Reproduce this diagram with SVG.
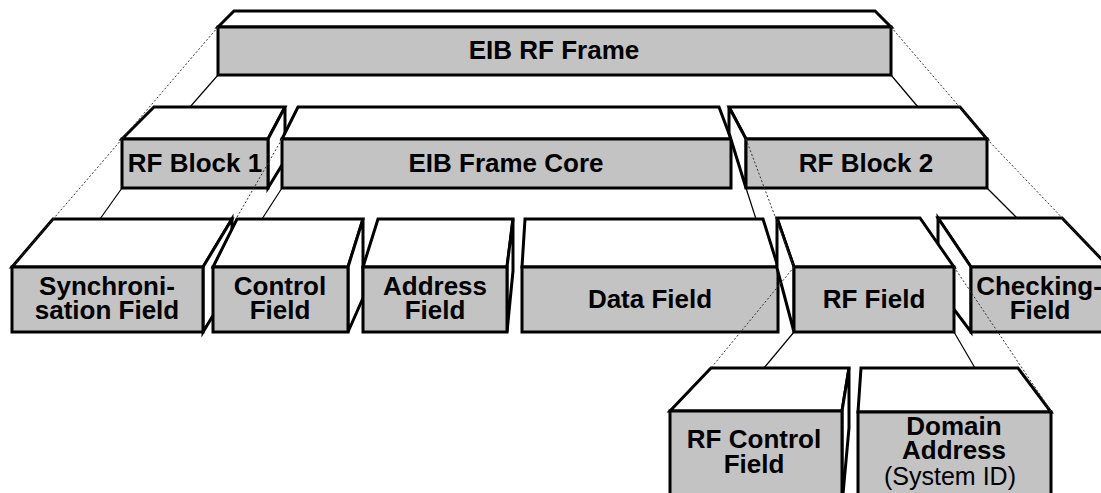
<svg xmlns="http://www.w3.org/2000/svg" width="1101" height="493" viewBox="0 0 1101 493">
  <style>
    .front { fill: #c3c3c3; stroke: #000; stroke-width: 3; stroke-linejoin: miter; }
    .face { fill: #fff; stroke: #000; stroke-width: 3; stroke-linejoin: miter; }
    .link { fill: none; stroke: #000; stroke-width: 1.2; }
    .guide { fill: none; stroke: #333; stroke-width: 1; stroke-dasharray: 2 2; }
    .lbl { font-family: "Liberation Sans", Arial, sans-serif; font-weight: bold; font-size: 26px; text-anchor: middle; fill: #000; }
    .sub { font-family: "Liberation Sans", Arial, sans-serif; font-weight: normal; font-size: 25px; text-anchor: middle; fill: #000; }
  </style>
  <rect width="1101" height="493" fill="#fff"/>

  <!-- solid links from bottom corners to the next level -->
  <g id="connectors">
    <line class="link" x1="218" y1="75" x2="190" y2="107"/>
    <line class="link" x1="891" y1="75" x2="918" y2="107"/>
    <line class="link" x1="122" y1="188" x2="100" y2="219"/>
    <line class="link" x1="282" y1="188" x2="262" y2="219"/>
    <line class="link" x1="746" y1="188" x2="756" y2="219"/>
    <line class="link" x1="987" y1="188" x2="1017" y2="218"/>
    <line class="link" x1="794" y1="332" x2="764" y2="368"/>
    <line class="link" x1="954" y1="332" x2="975" y2="368"/>
  </g>

  <g id="eib-rf-frame">
    <polygon class="face" points="218,27 234,11 875,11 891,27"/>
    <rect class="front" x="218" y="27" width="673" height="48"/>
    <text class="lbl" x="554" y="59">EIB RF Frame</text>
  </g>

  <g id="rf-block-1">
    <polygon class="face" points="122,139 154,107 285,107 268,139"/>
    <polygon class="face" points="268,139 285,107 285,160 268,188"/>
    <rect class="front" x="122" y="139" width="146" height="49"/>
    <text class="lbl" x="195" y="172">RF Block 1</text>
  </g>

  <g id="eib-frame-core">
    <polygon class="face" points="282,139 298,107 719,107 731,139"/>
    <rect class="front" x="282" y="139" width="449" height="49"/>
    <text class="lbl" x="506" y="172">EIB Frame Core</text>
  </g>

  <g id="rf-block-2">
    <polygon class="face" points="746,139 729,107 960,107 987,139"/>
    <polygon class="face" points="746,139 729,107 729,133 746,188"/>
    <rect class="front" x="746" y="139" width="241" height="49"/>
    <text class="lbl" x="866" y="172">RF Block 2</text>
  </g>

  <g id="sync-field">
    <polygon class="face" points="12,267 53,219 232,219 203,267"/>
    <polygon class="face" points="203,267 232,219 232,284 203,332"/>
    <rect class="front" x="12" y="267" width="191" height="65"/>
    <text class="lbl" x="107" y="295">Synchroni-</text>
    <text class="lbl" x="107" y="319">sation Field</text>
  </g>

  <g id="control-field">
    <polygon class="face" points="213,267 237,219 363,219 348,267"/>
    <polygon class="face" points="348,267 363,219 363,298 348,332"/>
    <rect class="front" x="213" y="267" width="135" height="65"/>
    <text class="lbl" x="280" y="295">Control</text>
    <text class="lbl" x="280" y="319">Field</text>
  </g>

  <g id="address-field">
    <polygon class="face" points="363,267 378,219 513,219 507,267"/>
    <polygon class="face" points="507,267 513,219 513,271 507,332"/>
    <rect class="front" x="363" y="267" width="144" height="65"/>
    <text class="lbl" x="435" y="295">Address</text>
    <text class="lbl" x="435" y="319">Field</text>
  </g>

  <g id="data-field">
    <polygon class="face" points="522,267 525,219 763,219 778,267"/>
    <rect class="front" x="522" y="267" width="256" height="65"/>
    <text class="lbl" x="650" y="308">Data Field</text>
  </g>

  <g id="checking-field">
    <polygon class="face" points="971,267 938,218 1062,218 1109,267"/>
    <polygon class="face" points="971,267 938,218 938,288 971,332"/>
    <rect class="front" x="971" y="267" width="138" height="65"/>
    <text class="lbl" x="1039" y="295">Checking-</text>
    <text class="lbl" x="1040" y="319">Field</text>
  </g>

  <g id="rf-field">
    <polygon class="face" points="794,267 777,218 920,218 954,267"/>
    <polygon class="face" points="794,267 777,218 777,268 794,332"/>
    <rect class="front" x="794" y="267" width="160" height="65"/>
    <text class="lbl" x="874" y="308">RF Field</text>
  </g>

  <g id="rf-control-field">
    <polygon class="face" points="670,411 711,368 849,368 842,411"/>
    <polygon class="face" points="842,411 849,368 849,428 842,505"/>
    <rect class="front" x="670" y="411" width="172" height="95"/>
    <text class="lbl" x="754" y="448">RF Control</text>
    <text class="lbl" x="754" y="473">Field</text>
  </g>

  <g id="domain-address">
    <polygon class="face" points="858,412 861,368 1018,368 1051,412"/>
    <rect class="front" x="858" y="412" width="193" height="94"/>
    <text class="lbl" x="954" y="435">Domain</text>
    <text class="lbl" x="954" y="459">Address</text>
    <text class="sub" x="950" y="485">(System ID)</text>
  </g>

  <!-- dotted extent guides, drawn over the blocks -->
  <g id="guides">
    <line class="guide" x1="218" y1="27" x2="122" y2="139"/>
    <line class="guide" x1="891" y1="27" x2="987" y2="139"/>
    <line class="guide" x1="122" y1="139" x2="12" y2="267"/>
    <line class="guide" x1="282" y1="139" x2="236" y2="219"/>
    <line class="guide" x1="746" y1="139" x2="794" y2="267"/>
    <line class="guide" x1="987" y1="139" x2="1109" y2="267"/>
    <line class="guide" x1="794" y1="267" x2="711" y2="368"/>
    <line class="guide" x1="954" y1="267" x2="1051" y2="411"/>
  </g>
</svg>
